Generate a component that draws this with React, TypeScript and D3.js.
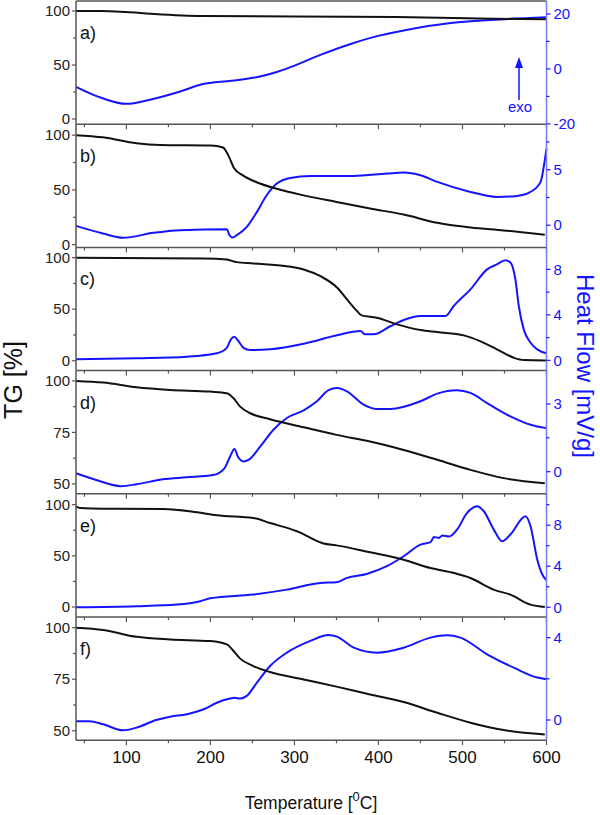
import { useEffect } from 'react'
import * as d3 from 'd3'

type Pt = [number, number]

// temperature (°C) vs TG (%) / heat flow (mV/g)
const tgA: Pt[] = [[40, 100], [70, 100], [100, 99], [130, 97.5], [190, 95.5], [300, 95], [420, 94.5], [520, 93], [600, 92.5]]
const hfA: Pt[] = [[40, -6.5], [70, -10.5], [100, -12.7], [128, -11.2], [164, -8.2], [190, -5.6], [225, -4.3], [255, -3.0], [280, -1.0], [300, 1.2], [330, 5.0], [366, 9.0], [402, 12.2], [430, 14.0], [486, 16.7], [545, 18.0], [600, 18.8]]

const tgB: Pt[] = [[40, 100], [72, 98], [112, 92.6], [140, 91], [200, 90.5], [215, 88.8], [221, 82], [228, 70], [239, 63], [255, 57], [279, 51], [311, 45], [350, 39], [390, 33], [430, 27.5], [470, 20], [510, 15.6], [549, 13], [598, 9]]
const hfB: Pt[] = [[40, -0.06], [72, -0.75], [96, -1.14], [132, -0.69], [164, -0.45], [219.5, -0.36], [222.7, -0.9], [226.3, -1.11], [231.4, -0.9], [243.3, -0.15], [255.3, 1.2], [267, 2.7], [279, 3.75], [295, 4.26], [319, 4.44], [370, 4.44], [410, 4.65], [430, 4.74], [450, 4.5], [470, 3.9], [509.5, 3.0], [541, 2.55], [565, 2.64], [581, 3.0], [593, 3.9], [597, 5.4], [600, 6.9]]

const tgC: Pt[] = [[40, 100], [192, 99.3], [219.5, 98.3], [231, 95.7], [251, 94.4], [291, 91.8], [311, 88.6], [331, 82], [351, 70.8], [362.5, 59.5], [374.5, 48.2], [380, 44], [398, 41.7], [422, 35.3], [450, 29.8], [470, 27.8], [501.5, 24.6], [521, 19], [541, 11], [561, 2.9], [573, 0.6], [600, 0.3]]
const hfC: Pt[] = [[40, 0.09], [112, 0.18], [172, 0.32], [207.6, 0.62], [219.5, 1.1], [224.4, 1.85], [228.4, 2.08], [232.4, 1.79], [239.4, 1.1], [247.4, 0.9], [271, 0.97], [311, 1.46], [350.6, 2.2], [378.4, 2.58], [384.4, 2.29], [394.3, 2.29], [414, 3.0], [430, 3.55], [450, 3.9], [479.6, 3.9], [489.6, 4.78], [509.5, 6.24], [529.3, 8.0], [541, 8.44], [551, 8.8], [557, 8.6], [563, 7.1], [567, 4.78], [573, 2.7], [581, 1.55], [589, 0.97], [600, 0.62]]

const tgD: Pt[] = [[40, 100], [72.5, 99.2], [112, 96.9], [152, 95.6], [200, 94.8], [219.5, 94], [227.5, 91.6], [235.4, 87.5], [247.4, 84.3], [271, 81.4], [311, 77.5], [350, 73.8], [390, 70.6], [430, 66.5], [470, 61.7], [509.5, 56.8], [549, 52.8], [598, 50.3]]
const hfD: Pt[] = [[40, -0.07], [64, -0.37], [93.6, -0.64], [112, -0.56], [143, -0.34], [171, -0.25], [203, -0.15], [216.7, 0.15], [223.4, 0.67], [228.6, 1.01], [232.6, 0.67], [239.4, 0.45], [245.3, 0.52], [259.2, 1.11], [275, 1.86], [291, 2.38], [311, 2.72], [326.7, 3.12], [340.6, 3.61], [350.6, 3.71], [362.5, 3.56], [382.3, 2.97], [398, 2.78], [414, 2.78], [450, 3.12], [470, 3.46], [493.5, 3.61], [509.5, 3.49], [529.3, 3.04], [557, 2.45], [581, 2.08], [600, 1.93]]

const tgE: Pt[] = [[40, 98.4], [45, 96.7], [72.5, 96], [144, 95.8], [184, 92.5], [207.6, 89.6], [251, 87], [271, 82], [303, 74], [334.7, 62], [350, 60.2], [390, 53.4], [430, 46.2], [462, 38], [490, 33.2], [509.5, 28.3], [537, 17], [557, 12], [581, 2.3], [598, 0]]
const hfE: Pt[] = [[40, 0], [112, 0.1], [160, 0.26], [188, 0.59], [200, 0.88], [251, 1.24], [291, 1.72], [330.7, 2.37], [350, 2.44], [362.5, 2.86], [386, 3.25], [410, 4.0], [430, 4.97], [450, 6.11], [462, 6.34], [466, 6.86], [472, 6.76], [476, 7.0], [484, 6.9], [493.5, 7.57], [505.5, 9.2], [517.5, 9.85], [525.4, 9.36], [537.3, 7.57], [547.2, 6.43], [557, 7.09], [575, 8.87], [581, 7.9], [589, 4.65], [595, 3.19], [600, 2.63]]

const tgF: Pt[] = [[40, 100], [72.5, 98.9], [112, 95.6], [152, 94.3], [200, 93.5], [219.5, 91.9], [227.5, 88.7], [235.4, 85], [251, 81.4], [271, 78.5], [311, 74.9], [350, 71.4], [390, 67.6], [430, 63.9], [470, 58.7], [509.5, 53.9], [549, 50.3], [598, 48.2]]
const hfF: Pt[] = [[40, -0.06], [56, -0.06], [72.5, -0.21], [96, -0.5], [112, -0.37], [135.4, 0], [152, 0.16], [172, 0.28], [192, 0.52], [207.6, 0.84], [223.4, 1.04], [228.4, 1.08], [235.4, 1.04], [243.3, 1.17], [255.3, 1.81], [271, 2.62], [291, 3.27], [319, 3.84], [340.6, 4.13], [350.6, 4.05], [370.6, 3.51], [398, 3.27], [430, 3.51], [462, 4.0], [481.6, 4.11], [497.5, 4.0], [529.3, 3.19], [561, 2.54], [589, 2.06], [600, 1.98]]

const xMajor = [100, 200, 300, 400, 500, 600]
const xMinor = [50, 150, 250, 350, 450, 550]

const panels = [
  { label: 'a)', tg: tgA, hf: hfA, tgDom: [-4.8, 109.3], hfDom: [-20.1, 24.7], tgT: [0, 50, 100], tgM: [25, 75], hfT: [-20, 0, 20], hfM: [-10, 10] },
  { label: 'b)', tg: tgB, hf: hfB, tgDom: [-2.5, 110], hfDom: [-2, 9.1], tgT: [0, 50, 100], tgM: [25, 75], hfT: [0, 5], hfM: [2.5, 7.5] },
  { label: 'c)', tg: tgC, hf: hfC, tgDom: [-9.6, 110], hfDom: [-0.9, 9.93], tgT: [0, 50, 100], tgM: [25, 75], hfT: [0, 4, 8], hfM: [2, 6] },
  { label: 'd)', tg: tgD, hf: hfD, tgDom: [45.2, 105], hfDom: [-0.98, 4.48], tgT: [50, 75, 100], tgM: [62.5, 87.5], hfT: [0, 3], hfM: [1.5] },
  { label: 'e)', tg: tgE, hf: hfE, tgDom: [-9.8, 110.6], hfDom: [-0.95, 11.06], tgT: [0, 50, 100], tgM: [25, 75], hfT: [0, 4, 8], hfM: [2, 6, 10] },
  { label: 'f)', tg: tgF, hf: hfF, tgDom: [45.4, 105.2], hfDom: [-0.98, 5.0], tgT: [50, 75, 100], tgM: [62.5, 87.5], hfT: [0, 4], hfM: [2] },
]

const FONT = '"Liberation Sans", Arial, sans-serif'
const BLUE = '#1414ff'
const FRAME = '#555'

export default function App() {
  useEffect(() => {
    document.body.style.margin = '0'
  }, [])

  const left = 76
  const right = 546.5
  const top0 = 1
  const ph = 123.2

  const x = d3.scaleLinear().domain([40, 600]).range([left, right])

  return (
    <svg width={600} height={815} style={{ display: 'block', background: '#fff' }} fontFamily={FONT}>
      {panels.map((p, i) => {
        const top = top0 + i * ph
        const bottom = top + ph
        const yT = d3.scaleLinear().domain(p.tgDom).range([bottom, top])
        const yH = d3.scaleLinear().domain(p.hfDom).range([bottom, top])
        const lineT = d3.line<Pt>().x((d) => x(d[0])).y((d) => yT(d[1])).curve(d3.curveMonotoneX)
        const lineH = d3.line<Pt>().x((d) => x(d[0])).y((d) => yH(d[1])).curve(d3.curveMonotoneX)
        return (
          <g key={p.label}>
            <path d={lineH(p.hf) || ''} fill="none" stroke={BLUE} strokeWidth={2} />
            <path d={lineT(p.tg) || ''} fill="none" stroke="#111" strokeWidth={2} />
            {/* frame */}
            {i === 0 && <line x1={left} x2={right} y1={top} y2={top} stroke={FRAME} strokeWidth={1.5} />}
            <line x1={left} x2={right} y1={bottom} y2={bottom} stroke={FRAME} strokeWidth={1.5} />
            <line x1={left} x2={left} y1={top} y2={bottom} stroke={FRAME} strokeWidth={1.5} />
            <line x1={right} x2={right} y1={top} y2={bottom} stroke="#7a7aff" strokeWidth={1.5} />
            {/* x ticks */}
            {xMajor.map((t) => (
              <line key={'xM' + t} x1={x(t)} x2={x(t)} y1={bottom} y2={bottom + 5} stroke={FRAME} strokeWidth={1.2} />
            ))}
            {xMinor.map((t) => (
              <line key={'xm' + t} x1={x(t)} x2={x(t)} y1={bottom} y2={bottom + 3} stroke={FRAME} strokeWidth={1.2} />
            ))}
            {/* TG axis */}
            {p.tgT.map((t) => (
              <g key={'tT' + t}>
                <line x1={left - 4} x2={left} y1={yT(t)} y2={yT(t)} stroke={FRAME} strokeWidth={1.2} />
                <text x={left - 6} y={yT(t)} dy="0.35em" textAnchor="end" fontSize={15} fill="#222">{t}</text>
              </g>
            ))}
            {p.tgM.map((t) => (
              <line key={'tM' + t} x1={left - 3} x2={left} y1={yT(t)} y2={yT(t)} stroke={FRAME} strokeWidth={1.2} />
            ))}
            {/* heat flow axis */}
            {p.hfT.map((t) => (
              <g key={'hT' + t}>
                <line x1={right} x2={right + 4} y1={yH(t)} y2={yH(t)} stroke={BLUE} strokeWidth={1.2} />
                <text x={right + 7} y={yH(t)} dy="0.35em" fontSize={15} fill={BLUE}>{t}</text>
              </g>
            ))}
            {p.hfM.map((t) => (
              <line key={'hM' + t} x1={right} x2={right + 3} y1={yH(t)} y2={yH(t)} stroke={BLUE} strokeWidth={1.2} />
            ))}
            <text x={80} y={top + 38} fontSize={18} fill="#111">{p.label}</text>
          </g>
        )
      })}

      {/* bottom x labels */}
      {xMajor.map((t) => (
        <text key={'xl' + t} x={x(t)} y={763} textAnchor="middle" fontSize={17} fill="#111">{t}</text>
      ))}
      <text x={311} y={809} textAnchor="middle" fontSize={17.5} fill="#111">
        Temperature [<tspan dy={-8} fontSize={13}>0</tspan><tspan dy={8}>C]</tspan>
      </text>

      <text transform="translate(22,380) rotate(-90)" textAnchor="middle" fontSize={25} fill="#111">TG [%]</text>
      <text transform="translate(577,366) rotate(90)" textAnchor="middle" fontSize={24} fill={BLUE}>Heat Flow [mV/g]</text>

      {/* exo arrow */}
      <line x1={519} x2={519} y1={100} y2={66} stroke={BLUE} strokeWidth={1.5} />
      <path d="M519,57 L515,68 L523,68 Z" fill={BLUE} />
      <text x={520} y={111.5} textAnchor="middle" fontSize={15} fill={BLUE}>exo</text>
    </svg>
  )
}
